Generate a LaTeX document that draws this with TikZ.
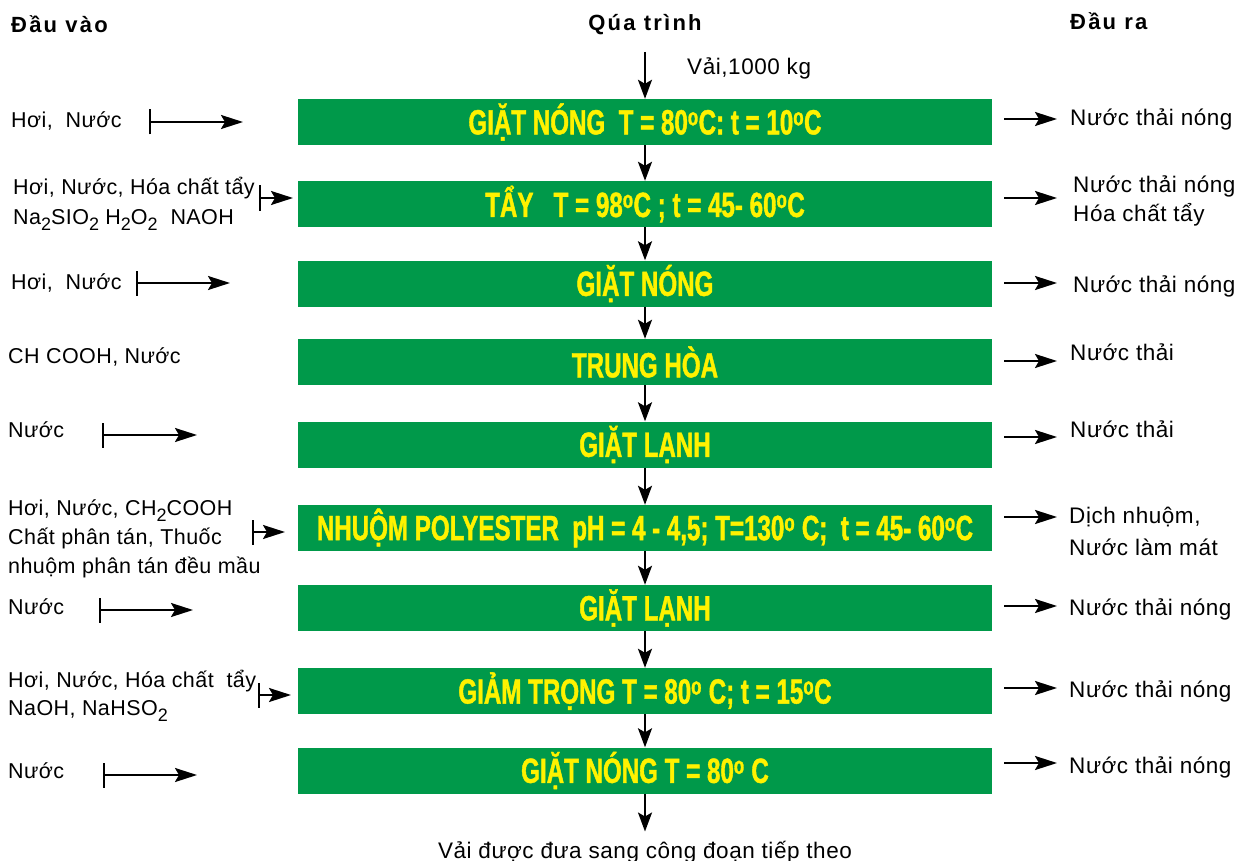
\documentclass[tikz,border=0pt]{standalone}
\usepackage{fontspec}
\setmainfont{Liberation Sans}[LetterSpace=2]
\newfontfamily\wideface{Liberation Sans}[LetterSpace=2.5]
\newfontfamily\headfont{Liberation Sans}[LetterSpace=10]
\newfontfamily\boxfont{Liberation Sans}[FakeStretch=0.69,FakeBold=1.2]
\usetikzlibrary{arrows.meta,positioning}
\definecolor{stepgreen}{RGB}{0,153,74}
\definecolor{stepyellow}{RGB}{255,242,0}
\newcommand{\dg}{\textsuperscript{o}}
\newcommand{\chem}[1]{\raisebox{-6pt}{\fontsize{18}{18}\selectfont #1}}

\begin{document}
\begin{tikzpicture}[x=1pt,y=-1pt,
  procbox/.style={fill=stepgreen,minimum width=694pt,minimum height=46pt,inner sep=0pt,text=stepyellow,font=\boxfont\bfseries\fontsize{35}{35}\selectfont},
  lbl/.style={anchor=base west,inner sep=0pt,font=\fontsize{21.5}{27}\selectfont},
  rlbl/.style={anchor=base west,inner sep=0pt,font=\wideface\fontsize{22.5}{27}\selectfont},
  head/.style={anchor=base west,inner sep=0pt,font=\headfont\bfseries\fontsize{22}{26}\selectfont},
  flow/.style={-{Stealth[length=19pt,width=14pt,inset=4pt]},line width=2.2pt},
  feed/.style={{Bar[width=25pt]}-{Stealth[length=22pt,width=14pt,inset=4pt]},line width=2.2pt},
  drain/.style={-{Stealth[length=22pt,width=14pt,inset=4pt]},line width=2.2pt}]
\useasboundingbox (0,0) rectangle (1252,861);

% column heads
\node[head] (hin) at (11,33) {Đầu vào};
\node[head,anchor=base] (hproc) at (645,31) {Qúa trình};
\node[head] (hout) at (1070,30) {Đầu ra};

% process steps
\node[procbox] (b1) at (645,122) {GIẶT NÓNG\ \ T = 80\dg C: t = 10\dg C};
\node[procbox] (b2) at (645,204) {TẨY\ \ \ T = 98\dg C ; t = 45- 60\dg C};
\node[procbox] (b3) at (645,283.5) {GIẶT NÓNG};
\node[procbox] (b4) at (645,362) {TRUNG HÒA};
\node[procbox] (b5) at (645,444.5) {GIẶT LẠNH};
\node[procbox] (b6) at (645,528) {NHUỘM POLYESTER\ \ pH = 4 - 4,5; T=130\dg\ C;\ \ t = 45- 60\dg C};
\node[procbox] (b7) at (645,608) {GIẶT LẠNH};
\node[procbox] (b8) at (645,691) {GIẢM TRỌNG T = 80\dg\ C; t = 15\dg C};
\node[procbox] (b9) at (645,770.5) {GIẶT NÓNG T = 80\dg\ C};

\coordinate (start) at (645,52);
\node[rlbl] (vai) at (687,75) {Vải,1000 kg};
\draw[flow] (start) -- (b1);
\foreach \a/\b in {b1/b2,b2/b3,b3/b4,b4/b5,b5/b6,b6/b7,b7/b8,b8/b9}
  \draw[flow] (\a) -- (\b);
\node[rlbl,anchor=base] (next) at (645,858) {Vải được đưa sang công đoạn tiếp theo};
\draw[flow,shorten >=9pt] (b9) -- (next);

% inputs
\node[lbl] (in1) at (11,128) {Hơi,\ \ Nước};
\node[lbl] (in2a) at (13,195) {Hơi, Nước, Hóa chất tẩy};
\node[lbl] (in2b) at (13,224) {Na\chem{2}SIO\chem{2} H\chem{2}O\chem{2}\ \ NAOH};
\node[lbl] (in3) at (11,289) {Hơi,\ \ Nước};
\node[lbl] (in4) at (8,363) {CH COOH, Nước};
\node[lbl] (in5) at (8,437) {Nước};
\node[lbl] (in6a) at (8,515) {Hơi, Nước, CH\chem{2}COOH};
\node[lbl] (in6b) at (8,544) {Chất phân tán, Thuốc};
\node[lbl] (in6c) at (8,573) {nhuộm phân tán đều mầu};
\node[lbl] (in7) at (8,614) {Nước};
\node[lbl] (in8a) at (8,687) {Hơi, Nước, Hóa chất\ \ tẩy};
\node[lbl] (in8b) at (8,715) {NaOH, NaHSO\chem{2}};
\node[lbl] (in9) at (8,778) {Nước};
\foreach \i/\xa/\xb/\y in {1/149/243/122,2/259/293/198,3/136/230/283,5/102/197/435,
    6/252/285/532,7/99/193/610,8/258/291/695,9/103/197/775} {
  \coordinate (f\i a) at (\xa,\y);
  \coordinate (f\i b) at (\xb,\y);
  \draw[feed] (f\i a) -- (f\i b);
}

% outputs
\node[rlbl] (out1) at (1070,126) {Nước thải nóng};
\node[rlbl] (out2a) at (1073,193) {Nước thải nóng};
\node[rlbl] (out2b) at (1073,222) {Hóa chất tẩy};
\node[rlbl] (out3) at (1073,292) {Nước thải nóng};
\node[rlbl] (out4) at (1070,360) {Nước thải};
\node[rlbl] (out5) at (1070,437) {Nước thải};
\node[rlbl] (out6a) at (1069,523) {Dịch nhuộm,};
\node[rlbl] (out6b) at (1069,555) {Nước làm mát};
\node[rlbl] (out7) at (1069,615) {Nước thải nóng};
\node[rlbl] (out8) at (1069,697) {Nước thải nóng};
\node[rlbl] (out9) at (1069,773) {Nước thải nóng};
\foreach \i/\y in {1/119,2/198,3/283,4/361,5/437,6/517,7/606,8/688,9/763} {
  \coordinate (d\i a) at (1004,\y);
  \coordinate (d\i b) at (1057,\y);
  \draw[drain] (d\i a) -- (d\i b);
}
\end{tikzpicture}
\end{document}
